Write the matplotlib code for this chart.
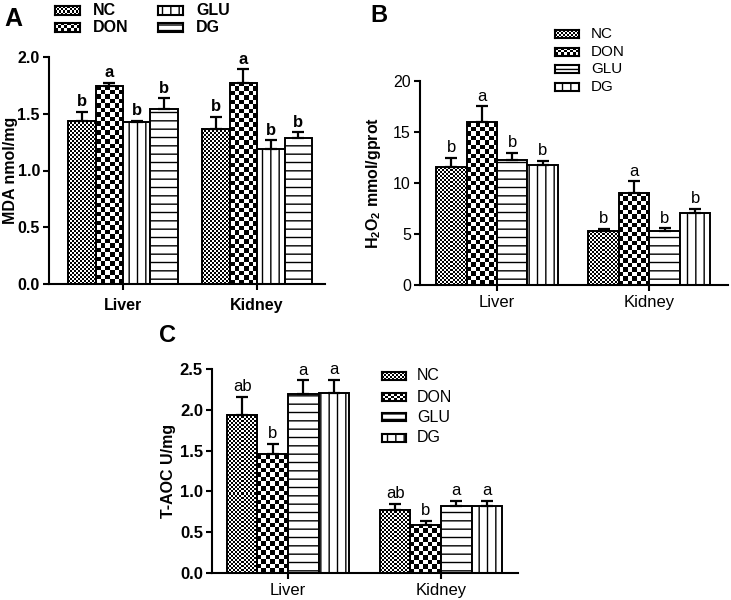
import numpy as np
import matplotlib
matplotlib.use('Agg')
import matplotlib.pyplot as plt
from matplotlib.patches import Rectangle

plt.rcParams['font.family'] = ['Liberation Sans', 'DejaVu Sans']
plt.rcParams['hatch.linewidth'] = 1.0
plt.rcParams['mathtext.fontset'] = 'custom'
plt.rcParams['mathtext.rm'] = 'Liberation Sans'
plt.rcParams['mathtext.bf'] = 'Liberation Sans:bold'

W, H = 731, 600

groups = ['NC', 'DON', 'GLU', 'DG']
tissues = ['Liver', 'Kidney']

# Panel A: MDA nmol/mg  (Liver, Kidney)
mda_nc = [1.44, 1.37]
mda_don = [1.745, 1.775]
mda_glu = [1.425, 1.19]
mda_dg = [1.54, 1.285]
mda_nc_err = [0.075, 0.10]
mda_don_err = [0.03, 0.115]
mda_glu_err = [0.013, 0.075]
mda_dg_err = [0.095, 0.05]
mda_letters = [['b', 'b'], ['a', 'a'], ['b', 'b'], ['b', 'b']]

# Panel B: H2O2 mmol/gprot
h2o2_nc = [11.55, 5.25]
h2o2_don = [15.95, 9.05]
h2o2_glu = [12.3, 5.25]
h2o2_dg = [11.75, 7.05]
h2o2_nc_err = [0.9, 0.25]
h2o2_don_err = [1.55, 1.1]
h2o2_glu_err = [0.65, 0.3]
h2o2_dg_err = [0.4, 0.45]
h2o2_letters = [['b', 'b'], ['a', 'a'], ['b', 'b'], ['b', 'b']]

# Panel C: T-AOC U/mg
taoc_nc = [1.94, 0.775]
taoc_don = [1.455, 0.59]
taoc_glu = [2.19, 0.815]
taoc_dg = [2.2, 0.815]
taoc_nc_err = [0.22, 0.07]
taoc_don_err = [0.125, 0.05]
taoc_glu_err = [0.17, 0.07]
taoc_dg_err = [0.17, 0.07]
taoc_letters = [['ab', 'ab'], ['b', 'b'], ['a', 'a'], ['a', 'a']]

fig = plt.figure(figsize=(W / 100, H / 100), dpi=100)


def px_axes(left, top, right, bottom):
    return fig.add_axes([left / W, 1 - bottom / H, (right - left) / W, (bottom - top) / H])


def checker(nrow, ncol):
    return np.add.outer(np.arange(nrow), np.arange(ncol)) % 2


def draw_panel(ax, means, errs, letters, styles, xlim, ylim, width,
               tick_fs, bold_ticks, xl_fs, bold_xlabels, xpad, bold_letters, letter_fs,
               yticks, ylabel, ylabel_x):
    ax.set_xlim(*xlim)
    ax.set_ylim(*ylim)
    bbox = ax.get_position()
    ax_w_px = bbox.width * W
    ax_h_px = bbox.height * H
    xppu = ax_w_px / (xlim[1] - xlim[0])
    yppu = ax_h_px / (ylim[1] - ylim[0])
    x = np.arange(len(tissues))
    for i, g in enumerate(groups):
        xs = x + (i - 1.5) * width
        kind, val = styles[g]
        if kind == 'checker':
            for xi, m in zip(xs, means[i]):
                ncol = max(1, int(round(width * xppu / val)))
                nrow = max(1, int(round(m * yppu / val)))
                ax.imshow(checker(nrow, ncol), cmap='gray', vmin=0, vmax=1,
                          extent=(xi - width / 2, xi + width / 2, 0, m),
                          interpolation='nearest', aspect='auto', zorder=1)
            ax.bar(xs, means[i], width, facecolor='none', edgecolor='black',
                   linewidth=1.4, zorder=2)
        else:
            ax.bar(xs, means[i], width, facecolor='white', edgecolor='black',
                   hatch=val, linewidth=1.4, zorder=2)
        ax.errorbar(xs, means[i], yerr=[np.zeros(len(xs)), errs[i]], fmt='none',
                    ecolor='black', elinewidth=1.6, capsize=4.6, capthick=1.6, zorder=3)
        for xi, m, e, l in zip(xs, means[i], errs[i], letters[i]):
            ax.annotate(l, (xi, m + e), xytext=(0, 2), textcoords='offset points',
                        ha='center', va='bottom', fontsize=letter_fs,
                        fontweight='bold' if bold_letters else 'normal')
    ax.set_xlim(*xlim)
    ax.set_ylim(*ylim)
    for s in ['top', 'right']:
        ax.spines[s].set_visible(False)
    for s in ['left', 'bottom']:
        ax.spines[s].set_linewidth(1.5)
    ax.set_xticks(x)
    ax.set_xticklabels(tissues, fontsize=xl_fs, fontweight='bold' if bold_xlabels else 'normal')
    ax.set_yticks(yticks)
    ax.set_yticklabels([('%.1f' % t) if isinstance(t, float) else str(t) for t in yticks],
                       fontsize=tick_fs, fontweight='bold' if bold_ticks else 'normal')
    ax.tick_params(axis='both', direction='out', length=4, width=1.5)
    ax.tick_params(axis='y', pad=2.5)
    ax.tick_params(axis='x', pad=xpad)
    ax.set_ylabel(ylabel, fontsize=11.5, fontweight='bold')
    bbox = ax.get_position()
    ax.yaxis.set_label_coords((ylabel_x - bbox.x0 * W) / (bbox.width * W), 0.5)


def legend_entry(x, yc, w, h, style, label, tx, bold, fs):
    lax = fig.add_axes([x / W, 1 - (yc + h / 2) / H, w / W, h / H])
    lax.set_xlim(0, 1)
    lax.set_ylim(0, 1)
    kind, val = style
    if kind == 'checker':
        ncol = max(1, int(round(w / val)))
        nrow = max(1, int(round(h / val)))
        lax.imshow(checker(nrow, ncol), cmap='gray', vmin=0, vmax=1, extent=(0, 1, 0, 1),
                   interpolation='nearest', aspect='auto')
    else:
        lax.add_patch(Rectangle((0, 0), 1, 1, facecolor='white', edgecolor='black',
                                hatch=val, linewidth=0))
    lax.set_xticks([])
    lax.set_yticks([])
    for s in lax.spines.values():
        s.set_linewidth(1.5)
    fig.text(tx / W, 1 - yc / H, label, ha='left', va='center', fontsize=fs,
             fontweight='bold' if bold else 'normal')


styles_a = {'NC': ('checker', 2.0), 'DON': ('checker', 4.5), 'GLU': ('hatch', '||'), 'DG': ('hatch', '--')}
styles_bc = {'NC': ('checker', 2.0), 'DON': ('checker', 4.5), 'GLU': ('hatch', '--'), 'DG': ('hatch', '||')}
legend_styles_a = {'NC': ('checker', 2.0), 'DON': ('checker', 3.0), 'GLU': ('hatch', '||'), 'DG': ('hatch', '---')}
legend_styles_bc = {'NC': ('checker', 2.0), 'DON': ('checker', 3.0), 'GLU': ('hatch', '---'), 'DG': ('hatch', '||')}

# Panel A
axA = px_axes(49, 57, 325, 284)
draw_panel(axA, [mda_nc, mda_don, mda_glu, mda_dg],
           [mda_nc_err, mda_don_err, mda_glu_err, mda_dg_err], mda_letters, styles_a,
           (-0.552, 1.507), (0, 2.0), 0.205, 11.5, True, 11.5, True, 6.0, True, 12,
           [0.0, 0.5, 1.0, 1.5, 2.0], 'MDA nmol/mg', 18)

# Panel B
axB = px_axes(420, 81, 728, 285)
draw_panel(axB, [h2o2_nc, h2o2_don, h2o2_glu, h2o2_dg],
           [h2o2_nc_err, h2o2_don_err, h2o2_glu_err, h2o2_dg_err], h2o2_letters, styles_bc,
           (-0.505, 1.515), (0, 20), 0.2, 11.5, False, 12, False, 3.5, False, 12,
           [0, 5, 10, 15, 20], r'H$_\mathbf{2}$O$_\mathbf{2}$ mmol/gprot', 383)

# Panel C
axC = px_axes(212, 369, 518, 573)
draw_panel(axC, [taoc_nc, taoc_don, taoc_glu, taoc_dg],
           [taoc_nc_err, taoc_don_err, taoc_glu_err, taoc_dg_err], taoc_letters, styles_bc,
           (-0.497, 1.503), (0, 2.5), 0.2, 12, True, 12, False, 3.0, False, 12,
           [0.0, 0.5, 1.0, 1.5, 2.0, 2.5], 'T-AOC U/mg', 176)

# Legends
posA = {'NC': (55, 10.5, 93), 'DON': (55, 27, 93), 'GLU': (158, 10.5, 196), 'DG': (158, 27, 196)}
for g in groups:
    x, yc, tx = posA[g]
    legend_entry(x, yc, 25, 9, legend_styles_a[g], g, tx, True, 11.5)

for g, yc in zip(groups, [34, 51.5, 69, 87]):
    legend_entry(555, yc, 24, 8, legend_styles_bc[g], g, 591, False, 11)

for g, yc in zip(groups, [376, 397, 417, 438]):
    legend_entry(382, yc, 24, 8, legend_styles_bc[g], g, 417, False, 11.5)

# Panel letters
fig.text(13 / W, 1 - 19 / H, 'A', ha='center', va='center', fontsize=18, fontweight='bold')
fig.text(379 / W, 1 - 15 / H, 'B', ha='center', va='center', fontsize=17, fontweight='bold')
fig.text(168 / W, 1 - 335 / H, 'C', ha='center', va='center', fontsize=17, fontweight='bold')

fig.savefig('out.png', dpi=100)
